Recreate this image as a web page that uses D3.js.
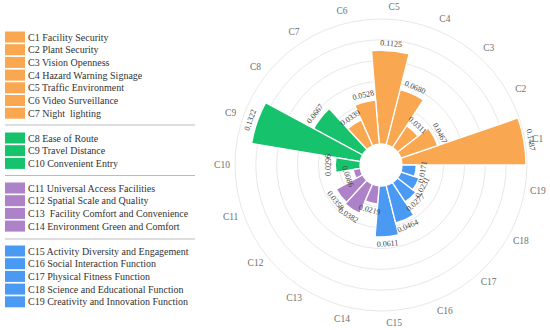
<!DOCTYPE html>
<html>
<head>
<meta charset="utf-8">
<script src="https://cdn.jsdelivr.net/npm/d3@7"></script>
<style>
  body { margin: 0; background: #fff; }
  svg { font-family: "Liberation Serif", "DejaVu Serif", serif; }
  .leg text { white-space: pre; }
</style>
</head>
<body>
<svg id="chart" width="550" height="330"></svg>
<script>
// data
const codes = ["C1","C2","C3","C4","C5","C6","C7","C8","C9","C10","C11","C12","C13","C14","C15","C16","C17","C18","C19"];
const names = ["Facility Security","Plant Security","Vision Openness","Hazard Warning Signage","Traffic Environment","Video Surveillance","Night  lighting",
  "Ease of Route","Travel Distance","Convenient Entry",
  "Universal Access Facilities","Spatial Scale and Quality"," Facility Comfort and Convenience","Environment Green and Comfort",
  "Activity Diversity and Engagement","Social Interaction Function","Physical Fitness Function","Science and Educational Function","Creativity and Innovation Function"];
const weights = [0.1487,0.0467,0.0311,0.0680,0.1125,0.0528,0.0339,0.0667,0.1322,0.0296,0.0086,0.0358,0.0382,0.0219,0.0611,0.0464,0.0277,0.0231,0.0171];
const groups = [0,0,0,0,0,0,0,1,1,1,2,2,2,2,3,3,3,3,3];
const gridTicks = [0.025,0.05,0.075,0.1,0.125,0.15];

const groupColors = ["#f9a851","#16c26b","#ad82c8","#4a9af4"];

const svg = d3.select("#chart");
const cx = 381, cy = 165;

const data = codes.map((c, i) => ({code: c, name: names[i], value: weights[i], group: groups[i]}));

// angle: counterclockwise from east, in radians
const theta = d3.scaleBand().domain(codes).range([0, 2 * Math.PI]);
const r = d3.scaleLinear().domain([0, 0.15]).range([21, 146]);

const g = svg.append("g").attr("transform", `translate(${cx},${cy})`);

g.selectAll(".grid")
  .data(gridTicks)
  .join("circle")
  .attr("class", "grid")
  .attr("r", d => r(d))
  .attr("fill", "none")
  .attr("stroke", "#e8e8e8")
  .attr("stroke-width", 1);

const arc = d3.arc()
  .innerRadius(r(0))
  .outerRadius(d => r(d.value))
  .startAngle(d => Math.PI / 2 - theta(d.code) - theta.bandwidth())
  .endAngle(d => Math.PI / 2 - theta(d.code));

g.selectAll(".bar")
  .data(data)
  .join("path")
  .attr("class", "bar")
  .attr("d", arc)
  .attr("fill", d => groupColors[d.group])
  .attr("stroke", "#fff")
  .attr("stroke-width", 1.3);

const mid = d => theta(d.code) + theta.bandwidth() / 2;

g.selectAll(".val")
  .data(data)
  .join("text")
  .attr("class", "val")
  .attr("text-anchor", "middle")
  .attr("dominant-baseline", "central")
  .attr("font-size", 8)
  .attr("fill", "#444")
  .attr("transform", d => {
    const a = mid(d);
    const rr = r(d.value) + 7;
    const deg = a * 180 / Math.PI;
    const rot = deg <= 180 ? 90 - deg : 270 - deg;
    return `translate(${rr * Math.cos(a)},${-rr * Math.sin(a)}) rotate(${rot})`;
  })
  .text(d => d.value.toFixed(4));

g.selectAll(".cat")
  .data(data)
  .join("text")
  .attr("class", "cat")
  .attr("text-anchor", "middle")
  .attr("dominant-baseline", "central")
  .attr("font-size", 9.5)
  .attr("fill", "#707070")
  .attr("x", d => 159 * Math.cos(mid(d)))
  .attr("y", d => -159 * Math.sin(mid(d)))
  .text(d => d.code);

// legend
const rowY = [37,49.7,62.4,75.1,87.8,100.5,113.2, 138,150.7,163.4, 188,200.7,213.4,226.1, 251,263.7,276.4,289.1,301.8];
const sepY = [125, 175.5, 239];

svg.selectAll(".sep")
  .data(sepY)
  .join("line")
  .attr("class", "sep")
  .attr("x1", 5).attr("x2", 195)
  .attr("y1", d => d).attr("y2", d => d)
  .attr("stroke", "#bbb")
  .attr("stroke-width", 1);

const leg = svg.selectAll(".leg")
  .data(data)
  .join("g")
  .attr("class", "leg")
  .attr("transform", (d, i) => `translate(5,${rowY[i]})`);

leg.append("rect")
  .attr("x", 0).attr("y", -5.5)
  .attr("width", 20).attr("height", 11)
  .attr("fill", d => groupColors[d.group]);

leg.append("text")
  .attr("x", 23)
  .attr("dominant-baseline", "central")
  .attr("font-size", 10)
  .attr("fill", "#333")
  .text(d => d.code + " " + d.name);
</script>
</body>
</html>
